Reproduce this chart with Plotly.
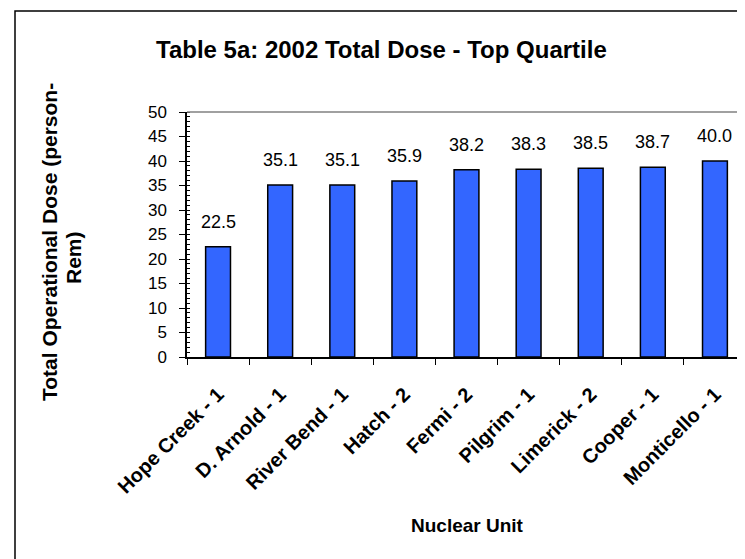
import plotly.graph_objects as go

units = ["Hope Creek - 1", "D. Arnold - 1", "River Bend - 1", "Hatch - 2", "Fermi - 2",
         "Pilgrim - 1", "Limerick - 2", "Cooper - 1", "Monticello - 1"]
doses = [22.5, 35.1, 35.1, 35.9, 38.2, 38.3, 38.5, 38.7, 40.0]
y_ticks = [0, 5, 10, 15, 20, 25, 30, 35, 40, 45, 50]

W, H = 745, 559
L, R, T, B = 179, 738, 104, 349
font = "Liberation Sans, Arial, sans-serif"

def px_x(p):
    return (p - L) / (R - L)

def px_y(p):
    return (B - p) / (B - T)

fig = go.Figure()
fig.add_trace(go.Bar(
    x=units, y=doses,
    marker=dict(color="#3366FF", line=dict(color="black", width=1.5)),
    hoverinfo="x+y",
))

annotations = []
for u, v in zip(units, doses):
    annotations.append(dict(x=u, y=v, xref="x", yref="y", text=f"{v:.1f}",
                            showarrow=False, yanchor="middle", yshift=25,
                            font=dict(family=font, size=18, color="black")))
annotations.append(dict(x=px_x(42), y=px_y(234), xref="paper", yref="paper",
                        text="<b>Total Operational Dose (person-</b>", textangle=-90,
                        showarrow=False, xanchor="center", yanchor="middle",
                        font=dict(family=font, size=21, color="black")))
annotations.append(dict(x=px_x(65), y=px_y(250), xref="paper", yref="paper",
                        text="<b>Rem)</b>", textangle=-90,
                        showarrow=False, xanchor="center", yanchor="middle",
                        font=dict(family=font, size=21, color="black")))
annotations.append(dict(x=px_x(459), y=px_y(517), xref="paper", yref="paper",
                        text="<b>Nuclear Unit</b>", showarrow=False,
                        xanchor="center", yanchor="middle",
                        font=dict(family=font, size=19, color="black")))
annotations.append(dict(x=px_x(373), y=px_y(41), xref="paper", yref="paper",
                        text="<b>Table 5a: 2002 Total Dose - Top Quartile</b>", showarrow=False,
                        xanchor="center", yanchor="middle",
                        font=dict(family=font, size=24, color="black")))

shapes = [
    # plot frame top and right (gray)
    dict(type="line", xref="paper", yref="paper", x0=0, x1=1, y0=1, y1=1,
         line=dict(color="#808080", width=1.5)),
    dict(type="line", xref="paper", yref="paper", x0=1, x1=1, y0=0, y1=1,
         line=dict(color="#808080", width=1.5)),
    # outer chart border
    dict(type="rect", xref="paper", yref="paper", x0=px_x(7), x1=px_x(744), y0=px_y(3), y1=px_y(557.5),
         line=dict(color="black", width=1.5), fillcolor="rgba(0,0,0,0)"),
]

fig.update_layout(
    width=W, height=H,
    margin=dict(l=L, r=W - R, t=T, b=H - B, pad=0),
    paper_bgcolor="white", plot_bgcolor="white",
    showlegend=False,
    bargap=0.6,
    annotations=annotations,
    shapes=shapes,
    font=dict(family=font, color="black"),
)
fig.update_xaxes(
    type="category", showline=True, linecolor="black", linewidth=1.5,
    ticks="outside", ticklen=6, tickcolor="black", tickson="boundaries",
    tickangle=-45, tickfont=dict(family=font, size=20, color="black", weight="bold"),
    ticklabelstandoff=16, showgrid=False, zeroline=False,
)
fig.update_yaxes(
    range=[0, 50], tickvals=y_ticks, showline=True, linecolor="black", linewidth=1.5,
    ticks="outside", ticklen=6, tickcolor="black",
    minor=dict(dtick=1, ticks="inside", ticklen=3, tickcolor="black"),
    tickfont=dict(family=font, size=17, color="black"),
    ticklabelstandoff=9, showgrid=False, zeroline=False,
)

fig.write_html("out.html")
